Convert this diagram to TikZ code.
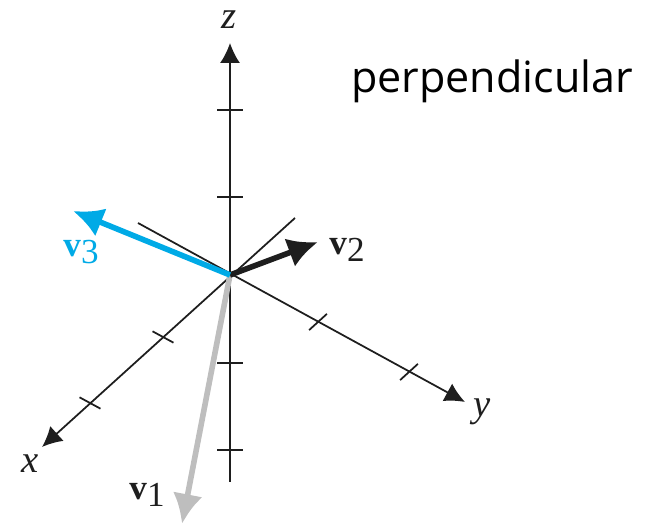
\documentclass[tikz,border=0pt]{standalone}
\usepackage{fontspec}
\setmainfont{Liberation Serif}
\newfontfamily\labelsans{Open Sans}
\usetikzlibrary{arrows.meta}
\definecolor{palcyan}{RGB}{0,170,230}
\definecolor{palgray}{RGB}{190,190,190}
\definecolor{palink}{RGB}{30,30,30}
\tikzset{
  axis/.style={
    line width=1pt,
    draw=palink,
    -{Latex[length=4mm,width=4mm]}
  },
  tickmark/.style={line width=1pt, draw=palink},
  vecarrow/.style={
    line width=3.2pt,
    -{Latex[length=6mm,width=6mm]}
  },
  axlabel/.style={
    font=\fontsize{22}{24}\selectfont\itshape,
    text=palink,
    inner sep=0pt
  },
  veclabel/.style={
    font=\fontsize{20}{22}\selectfont,
    text=palink,
    inner sep=0pt
  }
}
\newcommand{\vlab}[1]{\textbf{v}\raisebox{-0.45ex}{#1}}

\begin{document}
\begin{tikzpicture}[x=0.02cm,y=0.02cm]
    \useasboundingbox (0,0) rectangle (646,526);
    \coordinate (O) at (230,251);
    \coordinate (zlow) at (230,44);
    \coordinate (ztip) at (230,483);
    \coordinate (xback) at (295,308);
    \coordinate (xtip) at (42,79);
    \coordinate (yback) at (138,303);
    \coordinate (ytip) at (465,124);

    % axes
    \draw[axis] (zlow) -- (ztip);
    \draw[axis] (xback) -- (xtip);
    \draw[axis] (yback) -- (ytip);

    % ticks
    \foreach \h in {416,329,163,76}
      \draw[tickmark] (217,\h) -- (243,\h);
    \foreach \a/\b in {163/189, 90/123}
      \draw[tickmark] (\a,\b) ++(10.5,-5.7) -- ++(-21,11.4);
    \foreach \a/\b in {318/204, 409/154}
      \draw[tickmark] (\a,\b) ++(-8.9,-8.1) -- ++(17.8,16.2);

    \node[axlabel] (zlab) at (229,506) {z};
    \node[axlabel] (xlab) at (30,62) {x};
    \node[axlabel] (ylab) at (482,114) {y};

    % vectors
    \coordinate (v1tip) at (182,2);
    \coordinate (v2tip) at (318,284);
    \coordinate (v3tip) at (73,315);
    \draw[vecarrow, draw=palgray] (O) -- (v1tip);
    \draw[vecarrow, draw=palink] (O) -- (v2tip);
    \draw[vecarrow, draw=palcyan] (O) -- (v3tip);

    \node[veclabel] (v1lab) at (147,31) {\vlab{1}};
    \node[veclabel] (v2lab) at (347,276) {\vlab{2}};
    \node[veclabel, text=palcyan] (v3lab) at (81,274) {\vlab{3}};

    \node[font=\labelsans\fontsize{24.5}{28}\selectfont, text=black] (title) at (492,445) {perpendicular};
  \end{tikzpicture}
\end{document}
